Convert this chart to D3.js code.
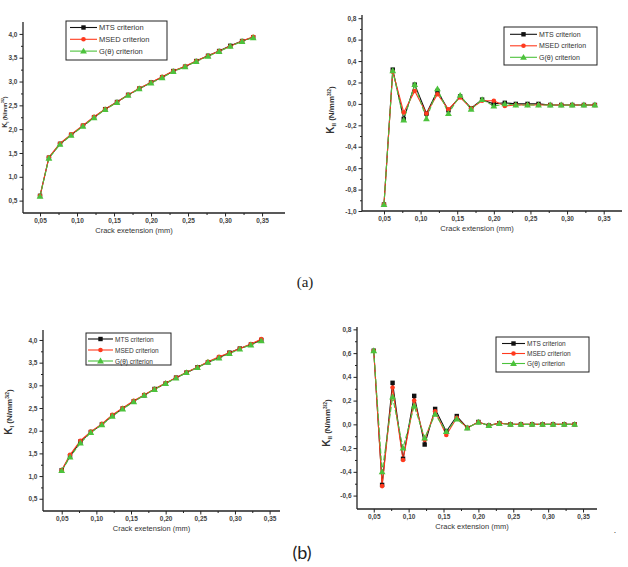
<!DOCTYPE html>
<html>
<head>
<meta charset="utf-8">
<script src="https://cdn.jsdelivr.net/npm/d3@7"></script>
<style>
  body { margin: 0; background: #fff; }
  svg { display: block; }
  .tick text { font-family: "Liberation Sans", Arial, sans-serif; font-size: 6.5px; font-weight: bold; fill: #444; }
  .axis path, .axis line { stroke: #222; }
  .lbl { font-family: "Liberation Sans", Arial, sans-serif; fill: #333; }
</style>
</head>
<body>
<div id="chart"></div>
<script>
// crack extension (mm), shared by all four plots
const crackExt = [0.050, 0.062, 0.077, 0.092, 0.108, 0.123, 0.138, 0.154, 0.169, 0.184,
                  0.200, 0.215, 0.230, 0.246, 0.261, 0.277, 0.292, 0.307, 0.323, 0.338];

// (a) KI
const kiA_mts  = [0.60, 1.40, 1.69, 1.88, 2.07, 2.25, 2.42, 2.57, 2.72, 2.85, 2.98, 3.09, 3.22, 3.31, 3.43, 3.54, 3.64, 3.75, 3.85, 3.93];
const kiA_msed = [0.60, 1.41, 1.70, 1.89, 2.08, 2.26, 2.42, 2.57, 2.72, 2.86, 2.98, 3.10, 3.22, 3.32, 3.43, 3.54, 3.64, 3.74, 3.85, 3.94];
const kiA_g    = [0.59, 1.39, 1.68, 1.87, 2.06, 2.24, 2.41, 2.56, 2.71, 2.85, 2.97, 3.08, 3.21, 3.31, 3.42, 3.53, 3.63, 3.74, 3.84, 3.92];

// (a) KII
const kiiA_mts  = [-0.94, 0.32, -0.14, 0.18, -0.09, 0.12, -0.06, 0.07, -0.04, 0.04, 0.00, 0.01, 0.00, 0.00, 0.00, -0.01, -0.01, -0.01, -0.01, -0.01];
const kiiA_msed = [-0.94, 0.30, -0.08, 0.12, -0.09, 0.09, -0.05, 0.06, -0.04, 0.03, 0.03, -0.02, -0.01, -0.01, -0.01, -0.01, -0.01, -0.01, -0.01, -0.01];
const kiiA_g    = [-0.94, 0.31, -0.15, 0.18, -0.14, 0.14, -0.09, 0.08, -0.05, 0.04, -0.02, 0.00, -0.01, -0.01, -0.01, -0.01, -0.01, -0.01, -0.01, -0.01];

// (b) KI
const kiB_mts  = [1.13, 1.44, 1.76, 1.97, 2.14, 2.33, 2.49, 2.65, 2.78, 2.92, 3.04, 3.17, 3.28, 3.40, 3.51, 3.61, 3.72, 3.81, 3.90, 4.00];
const kiB_msed = [1.13, 1.47, 1.78, 1.98, 2.15, 2.35, 2.50, 2.66, 2.79, 2.92, 3.05, 3.17, 3.29, 3.40, 3.52, 3.63, 3.72, 3.81, 3.91, 4.02];
const kiB_g    = [1.12, 1.42, 1.73, 1.96, 2.13, 2.32, 2.48, 2.64, 2.78, 2.91, 3.04, 3.16, 3.28, 3.39, 3.51, 3.60, 3.70, 3.80, 3.89, 3.98];

// (b) KII
const kiiB_mts  = [0.62, -0.51, 0.35, -0.29, 0.24, -0.17, 0.13, -0.06, 0.07, -0.03, 0.02, -0.01, 0.01, 0.00, 0.00, 0.00, 0.00, 0.00, 0.00, 0.00];
const kiiB_msed = [0.62, -0.52, 0.31, -0.30, 0.20, -0.13, 0.11, -0.09, 0.055, -0.03, 0.02, -0.01, 0.01, 0.00, 0.00, 0.00, 0.00, 0.00, 0.00, 0.00];
const kiiB_g    = [0.62, -0.40, 0.23, -0.20, 0.155, -0.115, 0.085, -0.06, 0.045, -0.03, 0.018, -0.01, 0.007, 0.00, 0.00, 0.00, 0.00, 0.00, 0.00, 0.00];

const xTicks = [0.05, 0.10, 0.15, 0.20, 0.25, 0.30, 0.35];
const kiTicks = [0.5, 1.0, 1.5, 2.0, 2.5, 3.0, 3.5, 4.0];
const kiiTicksA = [-1.0, -0.8, -0.6, -0.4, -0.2, 0.0, 0.2, 0.4, 0.6, 0.8];
const kiiTicksB = [-0.6, -0.4, -0.2, 0.0, 0.2, 0.4, 0.6, 0.8];
const seriesNames = ['MTS criterion', 'MSED criterion', 'G(\u03b8) criterion'];

const W = 628, H = 567;
const colors = ['#111111', '#ff3a1e', '#4cc23c'];

const svg = d3.select('#chart').append('svg')
  .attr('width', W).attr('height', H);

const comma = f => d => d3.format(f)(d).replace('.', ',').replace('\u2212', '-');

function drawMarker(g, type, x, y, color) {
  if (type === 0) {
    g.append('rect').attr('x', x - 2.2).attr('y', y - 2.2).attr('width', 4.4).attr('height', 4.4).attr('fill', color);
  } else if (type === 1) {
    g.append('circle').attr('cx', x).attr('cy', y).attr('r', 2.3).attr('fill', color);
  } else {
    g.append('path').attr('d', d3.symbol(d3.symbolTriangle, 20)()).attr('transform', `translate(${x},${y + 0.5})`).attr('fill', color);
  }
}

function drawPanel(p) {
  const x = d3.scaleLinear().domain(p.xDomain).range([p.left, p.right]);
  const y = d3.scaleLinear().domain(p.yDomain).range([p.bottom, p.top]);
  const g = svg.append('g');

  // minor ticks
  const xMinor = xTicks.slice(0, -1).map(d => d + 0.025);
  g.append('g').attr('class', 'axis').attr('transform', `translate(0,${p.bottom})`)
    .call(d3.axisBottom(x).tickValues(xMinor).tickSize(2).tickFormat(''))
    .call(a => a.select('.domain').remove());
  const yMinor = p.yTicks.slice(0, -1).map((d, i) => (d + p.yTicks[i + 1]) / 2);
  g.append('g').attr('class', 'axis').attr('transform', `translate(${p.left},0)`)
    .call(d3.axisLeft(y).tickValues(yMinor).tickSize(2).tickFormat(''))
    .call(a => a.select('.domain').remove());

  // major axes
  g.append('g').attr('class', 'axis').attr('transform', `translate(0,${p.bottom})`)
    .call(d3.axisBottom(x).tickValues(xTicks).tickSize(3.5).tickPadding(2).tickFormat(comma('.2f')))
    .call(a => a.select('.domain').attr('d', `M${p.left},0H${p.right}`).attr('stroke-width', 1.3));
  g.append('g').attr('class', 'axis').attr('transform', `translate(${p.left},0)`)
    .call(d3.axisLeft(y).tickValues(p.yTicks).tickSize(3.5).tickPadding(2).tickFormat(comma('.1f')))
    .call(a => a.select('.domain').attr('d', `M0,${p.top}V${p.bottom}`).attr('stroke-width', 1.3));

  // axis titles
  g.append('text').attr('class', 'lbl')
    .attr('x', (p.left + p.right) / 2 + p.xLabelDx).attr('y', p.bottom + 20)
    .attr('text-anchor', 'middle').style('font-size', '7.5px')
    .text(p.xLabel);

  const fs = p.yLabelFs || 8;
  const yl = g.append('text').attr('class', 'lbl')
    .attr('transform', `translate(${p.yLabelX},${p.yLabelY}) rotate(-90)`)
    .attr('text-anchor', 'middle').style('font-size', fs + 'px').style('font-weight', 'bold');
  yl.append('tspan').style('font-size', (fs * 1.25) + 'px').text('K');
  yl.append('tspan').attr('dy', 2).style('font-size', (fs * 0.75) + 'px').text(p.sub);
  yl.append('tspan').attr('dy', -2).text(' (N/mm');
  yl.append('tspan').attr('dy', -3).style('font-size', (fs * 0.62) + 'px').text('3/2');
  yl.append('tspan').attr('dy', 3).text(')');

  // series lines + markers
  const line = d3.line().x((d, i) => x(crackExt[i])).y(d => y(d));
  p.series.forEach((s, k) => {
    g.append('path').attr('d', line(s)).attr('fill', 'none')
      .attr('stroke', colors[k]).attr('stroke-width', 1.1)
      .attr('stroke-dasharray', k === 2 ? '5,2' : null);
  });
  p.series.forEach((s, k) => {
    s.forEach((v, i) => drawMarker(g, k, x(crackExt[i]), y(v), colors[k]));
  });

  // legend
  const L = p.legend;
  g.append('rect').attr('x', L.x).attr('y', L.y).attr('width', L.w).attr('height', L.h)
    .attr('fill', '#fff').attr('stroke', '#222').attr('stroke-width', 1);
  seriesNames.forEach((name, k) => {
    const ly = L.y + L.first + k * L.step;
    g.append('line').attr('x1', L.x + L.lx0).attr('x2', L.x + L.lx1).attr('y1', ly).attr('y2', ly)
      .attr('stroke', colors[k]).attr('stroke-width', 1.1);
    drawMarker(g, k, L.x + (L.lx0 + L.lx1) / 2, ly, colors[k]);
    g.append('text').attr('class', 'lbl').attr('x', L.x + L.lx1 + 2).attr('y', ly + 2.6)
      .style('font-size', L.fs + 'px').text(name);
  });
}

drawPanel({
  left: 23, right: 285, top: 22, bottom: 213,
  xDomain: [0.027, 0.381], yDomain: [0.24, 4.25], yTicks: kiTicks,
  series: [kiA_mts, kiA_msed, kiA_g], sub: 'I',
  xLabel: 'Crack exetension (mm)', xLabelDx: -20,
  yLabelX: 6.8, yLabelY: 112, yLabelFs: 5.5,
  legend: { x: 66, y: 21, w: 101, h: 39, first: 6.5, step: 11.8, lx0: 4, lx1: 31, fs: 7.5 }
});

drawPanel({
  left: 362, right: 622, top: 15, bottom: 211,
  xDomain: [0.020, 0.375], yDomain: [-1.0, 0.83], yTicks: kiiTicksA,
  series: [kiiA_mts, kiiA_msed, kiiA_g], sub: 'II',
  xLabel: 'Crack extension (mm)', xLabelDx: -15,
  yLabelX: 334, yLabelY: 110,
  legend: { x: 504, y: 27, w: 93, h: 38, first: 7.3, step: 11.5, lx0: 6, lx1: 33, fs: 7 }
});

drawPanel({
  left: 43, right: 280, top: 330, bottom: 511,
  xDomain: [0.023, 0.365], yDomain: [0.23, 4.22], yTicks: kiTicks,
  series: [kiB_mts, kiB_msed, kiB_g], sub: 'I',
  xLabel: 'Crack exetension (mm)', xLabelDx: -10,
  yLabelX: 12, yLabelY: 412,
  legend: { x: 86, y: 333, w: 85, h: 32, first: 6, step: 11, lx0: 2, lx1: 27, fs: 6.5 }
});

drawPanel({
  left: 357, right: 597, top: 327, bottom: 509,
  xDomain: [0.026, 0.37], yDomain: [-0.713, 0.82], yTicks: kiiTicksB,
  series: [kiiB_mts, kiiB_msed, kiiB_g], sub: 'II',
  xLabel: 'Crack extension (mm)', xLabelDx: -5,
  yLabelX: 330, yLabelY: 423,
  legend: { x: 496, y: 337, w: 93, h: 35, first: 6.5, step: 10, lx0: 6, lx1: 29, fs: 6.5 }
});

// panel captions
svg.append('text').attr('x', 305).attr('y', 287).attr('text-anchor', 'middle')
  .style('font-family', '"Liberation Serif", serif').style('font-size', '15px').style('fill', '#222')
  .text('(a)');
svg.append('text').attr('x', 302).attr('y', 559).attr('text-anchor', 'middle')
  .style('font-family', 'Lato, sans-serif').style('font-size', '18px').style('fill', '#222')
  .text('(b)');
svg.append('text').attr('x', 615).attr('y', 533).attr('text-anchor', 'middle')
  .style('font-family', 'Lato, sans-serif').style('font-size', '8px').style('fill', '#333')
  .text('.');
</script>
</body>
</html>
